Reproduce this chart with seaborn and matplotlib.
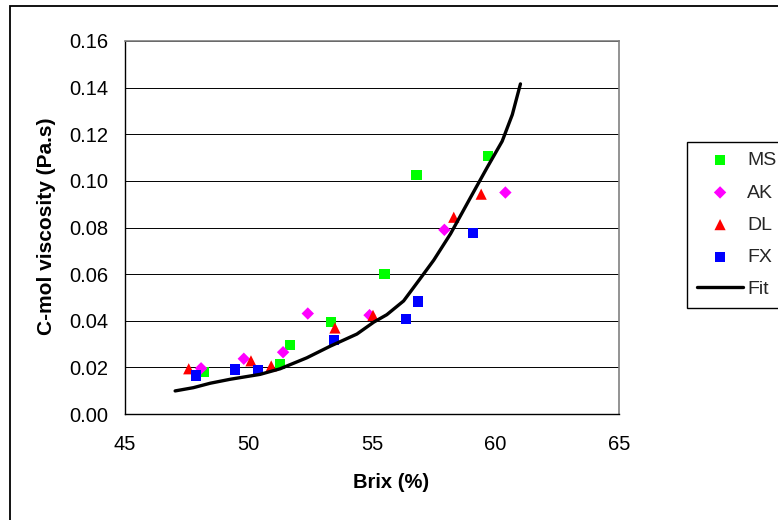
import matplotlib
matplotlib.use("Agg")
import matplotlib.pyplot as plt
import seaborn as sns
import pandas as pd
from matplotlib.patches import Rectangle

# ---- data ----
ms_x = [48.18, 51.28, 51.69, 53.34, 55.50, 56.80, 59.69]
ms_y = [0.0180, 0.0213, 0.0295, 0.0394, 0.0600, 0.1024, 0.1106]
ak_x = [48.08, 49.81, 51.40, 52.40, 54.90, 57.93, 60.40]
ak_y = [0.0196, 0.0237, 0.0265, 0.0431, 0.0424, 0.0790, 0.0950]
dl_x = [47.58, 50.10, 50.92, 53.50, 55.04, 58.31, 59.42]
dl_y = [0.0194, 0.0228, 0.0206, 0.0369, 0.0423, 0.0844, 0.0943]
fx_x = [47.88, 49.46, 50.39, 53.47, 56.38, 56.86, 59.08]
fx_y = [0.0165, 0.0191, 0.0190, 0.0316, 0.0407, 0.0482, 0.0776]
fit_x = [47.03, 47.77, 48.45, 49.26, 50.47, 51.28, 52.36, 53.31, 54.39, 55.07,
         55.60, 56.28, 56.96, 57.50, 58.18, 58.99, 59.66, 60.27, 60.68, 61.01]
fit_y = [0.0099, 0.0113, 0.0132, 0.0149, 0.0170, 0.0194, 0.0241, 0.0291, 0.0343, 0.0394,
         0.0426, 0.0485, 0.0582, 0.0660, 0.0773, 0.0929, 0.1057, 0.1170, 0.1284, 0.1416]
x_ticks = [45, 50, 55, 60, 65]
y_ticks = [0.00, 0.02, 0.04, 0.06, 0.08, 0.10, 0.12, 0.14, 0.16]

series = [
    ("MS", ms_x, ms_y, "s", "#00FF00", 55),
    ("AK", ak_x, ak_y, "D", "#FF00FF", 40),
    ("DL", dl_x, dl_y, "^", "#FF0000", 65),
    ("FX", fx_x, fx_y, "s", "#0000FF", 55),
]

sns.set_theme(style="white")
plt.rcParams['font.family'] = ['Liberation Sans', 'DejaVu Sans']

W, H = 778, 520
fig = plt.figure(figsize=(W / 100, H / 100), dpi=100)
L, R, T, B = 125, 619, 41, 414
ax = fig.add_axes([L / W, 1 - B / H, (R - L) / W, (B - T) / H])

for name, xs, ys, mk, col, s in series:
    df = pd.DataFrame({"Brix": xs, "visc": ys})
    sns.scatterplot(data=df, x="Brix", y="visc", marker=mk, color=col, s=s,
                    edgecolor="none", linewidth=0, label=name, ax=ax, zorder=3)

fit_df = pd.DataFrame({"Brix": fit_x, "visc": fit_y})
sns.lineplot(data=fit_df, x="Brix", y="visc", color="black", linewidth=2.4,
             label="Fit", ax=ax, zorder=4, sort=False)

ax.set_xlim(45, 65)
ax.set_ylim(0, 0.16)
ax.set_xticks(x_ticks)
ax.set_yticks(y_ticks)
ax.set_xticklabels([str(v) for v in x_ticks])
ax.set_yticklabels([f"{v:.2f}" for v in y_ticks])
ax.grid(axis="y", color="black", linewidth=0.7)
ax.grid(axis="x", visible=False)
ax.set_axisbelow(True)

for sp in ["top", "right"]:
    ax.spines[sp].set_color("#808080")
    ax.spines[sp].set_linewidth(1.2)
for sp in ["left", "bottom"]:
    ax.spines[sp].set_color("black")
    ax.spines[sp].set_linewidth(1.0)

ax.tick_params(axis="both", direction="out", length=5, width=1, color="black",
               labelsize=14.5, labelcolor="black")
ax.tick_params(axis="y", pad=7)
ax.tick_params(axis="x", pad=10)

ax.set_xlabel("Brix (%)", fontsize=14.5, fontweight="bold", color="black")
ax.set_ylabel("C-mol viscosity (Pa.s)", fontsize=15, fontweight="bold", color="black")
ax.xaxis.set_label_coords((391 - L) / (R - L), -(473 - B) / (B - T))
ax.yaxis.set_label_coords((56 - L) / (R - L), (B - 226) / (B - T))

handles, labels = ax.get_legend_handles_labels()
leg = ax.legend(handles, labels, loc="upper left",
                bbox_to_anchor=(687 / W, 1 - 142 / H), bbox_transform=fig.transFigure,
                frameon=True, fancybox=False, framealpha=1, edgecolor="black",
                fontsize=14, handlelength=2.4, handletextpad=0.2,
                labelspacing=0.75, borderpad=0.5, borderaxespad=0)
leg.get_frame().set_linewidth(1.0)

fig.add_artist(Rectangle((10 / W, -0.1), 1.2, 1.1 - 6 / H, transform=fig.transFigure,
                         fill=False, edgecolor="black", linewidth=1.3))

fig.savefig("out.png", dpi=100)
